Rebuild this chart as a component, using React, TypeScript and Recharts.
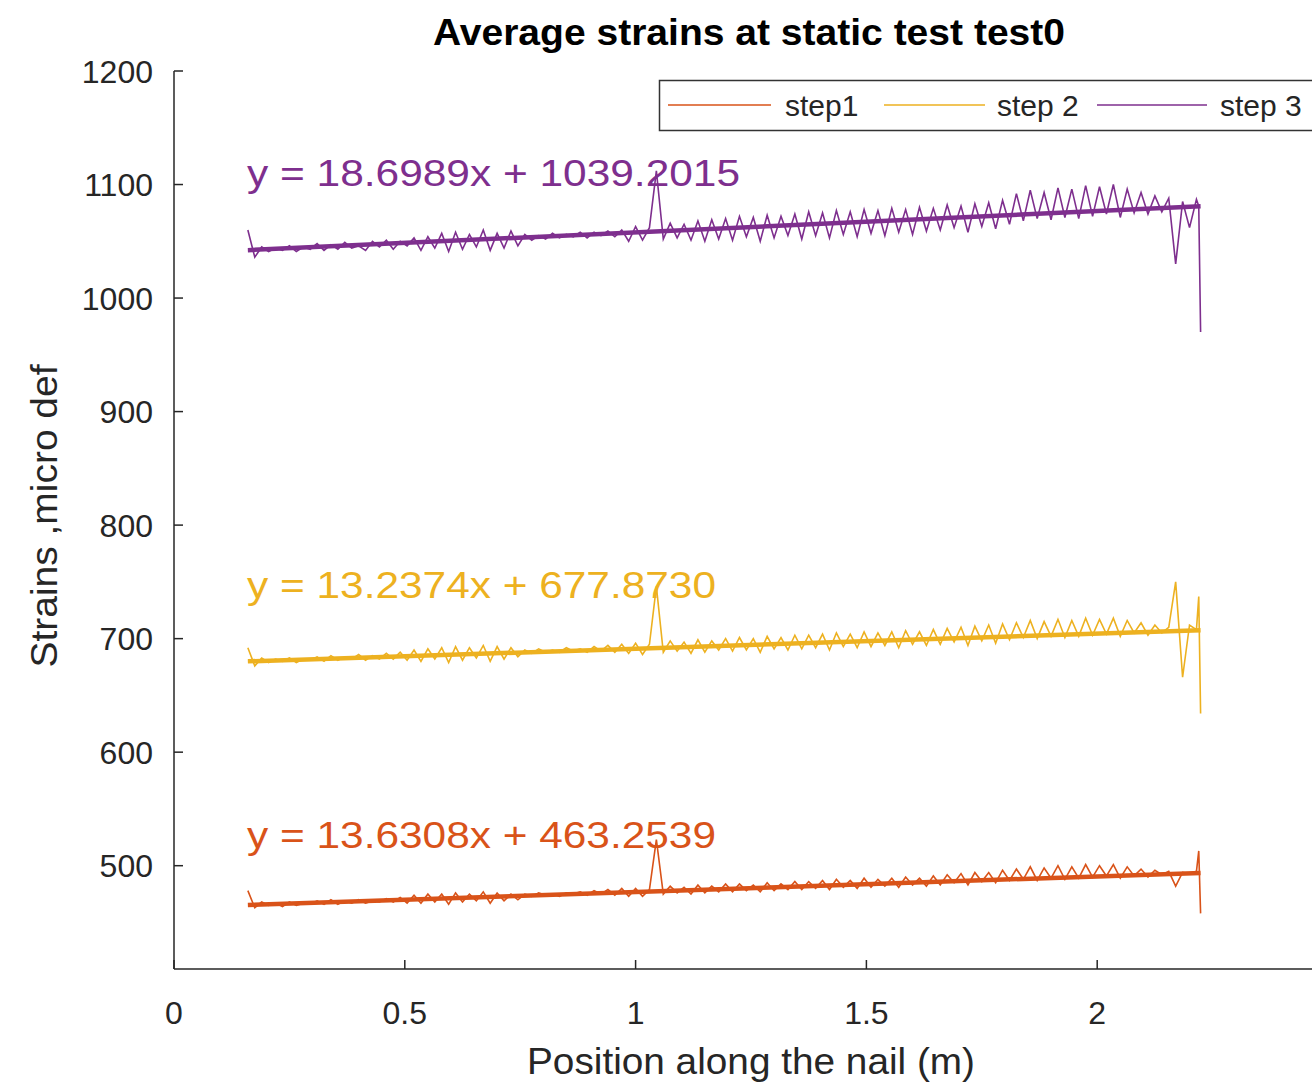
import React from "react";
import { LineChart, Line, XAxis, YAxis } from "recharts";

// Sample positions along the nail (m)
const positions = [
  0.16, 0.175, 0.19, 0.205, 0.22, 0.235, 0.25, 0.265, 0.28, 0.295,
  0.31, 0.325, 0.34, 0.355, 0.37, 0.385, 0.4, 0.415, 0.43, 0.445,
  0.46, 0.475, 0.49, 0.505, 0.52, 0.535, 0.55, 0.565, 0.58, 0.595,
  0.61, 0.625, 0.64, 0.655, 0.67, 0.685, 0.7, 0.715, 0.73, 0.745,
  0.76, 0.775, 0.79, 0.805, 0.82, 0.835, 0.85, 0.865, 0.88, 0.895,
  0.91, 0.925, 0.94, 0.955, 0.97, 0.985, 1.0, 1.015, 1.03, 1.045,
  1.06, 1.075, 1.09, 1.105, 1.12, 1.135, 1.15, 1.165, 1.18, 1.195,
  1.21, 1.225, 1.24, 1.255, 1.27, 1.285, 1.3, 1.315, 1.33, 1.345,
  1.36, 1.375, 1.39, 1.405, 1.42, 1.435, 1.45, 1.465, 1.48, 1.495,
  1.51, 1.525, 1.54, 1.555, 1.57, 1.585, 1.6, 1.615, 1.63, 1.645,
  1.66, 1.675, 1.69, 1.705, 1.72, 1.735, 1.75, 1.765, 1.78, 1.795,
  1.81, 1.825, 1.84, 1.855, 1.87, 1.885, 1.9, 1.915, 1.93, 1.945,
  1.96, 1.975, 1.99, 2.005, 2.02, 2.035, 2.05, 2.065, 2.08, 2.095,
  2.11, 2.125, 2.14, 2.155, 2.17, 2.185, 2.2, 2.215,
  2.22, 2.224,
];

const step1 = [
  478, 463, 468, 465, 467, 464, 468, 465, 467, 466,
  469, 466, 470, 466, 469, 467, 470, 467, 469, 468,
  471, 468, 472, 467, 474, 467, 475, 468, 475, 466,
  476, 468, 475, 469, 477, 467, 476, 469, 475, 470,
  475, 473, 476, 474, 475, 473, 476, 475, 477, 474,
  478, 475, 479, 474, 480, 473, 480, 473, 479, 523,
  475, 482, 476, 481, 475, 483, 476, 482, 477, 484,
  477, 484, 478, 483, 477, 485, 478, 484, 479, 486,
  479, 486, 480, 487, 479, 488, 481, 487, 480, 489,
  481, 488, 482, 489, 481, 490, 483, 489, 482, 491,
  483, 492, 485, 493, 483, 494, 486, 494, 485, 496,
  487, 497, 488, 499, 487, 498, 489, 500, 488, 499,
  489, 501, 490, 500, 491, 501, 489, 499, 491, 497,
  490, 496, 492, 495, 482, 494, 493, 495,
  513, 458,
];

const step2 = [
  692, 676, 683, 679, 682, 680, 683, 679, 682, 681,
  684, 680, 685, 681, 684, 682, 686, 681, 685, 682,
  687, 682, 688, 681, 690, 680, 691, 682, 692, 679,
  693, 681, 692, 683, 694, 680, 693, 682, 692, 684,
  690, 687, 691, 688, 690, 688, 692, 689, 691, 688,
  693, 689, 694, 688, 695, 687, 696, 686, 695, 746,
  688, 698, 689, 697, 687, 699, 688, 698, 690, 700,
  689, 701, 690, 700, 688, 702, 691, 701, 690, 703,
  691, 703, 692, 704, 690, 705, 693, 704, 692, 706,
  693, 705, 694, 706, 692, 707, 695, 706, 694, 708,
  695, 709, 697, 710, 694, 711, 698, 712, 696, 713,
  699, 714, 701, 716, 700, 715, 702, 717, 701, 716,
  702, 718, 703, 717, 704, 718, 702, 716, 705, 714,
  703, 712, 705, 710, 750, 666, 712, 708,
  737, 634,
];

const step3 = [
  1060, 1036, 1045, 1041, 1044, 1042, 1046, 1041, 1045, 1043,
  1048, 1042, 1047, 1043, 1049, 1044, 1046, 1042, 1050, 1045,
  1051, 1043, 1050, 1046, 1053, 1042, 1054, 1044, 1057, 1041,
  1058, 1043, 1056, 1045, 1060, 1042, 1057, 1044, 1059, 1046,
  1056, 1051, 1055, 1052, 1057, 1053, 1056, 1054, 1058, 1053,
  1058, 1055, 1059, 1054, 1060, 1050, 1063, 1051, 1062, 1112,
  1052, 1066, 1053, 1065, 1051, 1068, 1050, 1069, 1052, 1070,
  1051, 1072, 1054, 1071, 1050, 1073, 1053, 1072, 1055, 1074,
  1052, 1076, 1055, 1075, 1053, 1077, 1056, 1076, 1054, 1078,
  1057, 1077, 1055, 1079, 1058, 1078, 1056, 1080, 1059, 1079,
  1060, 1082, 1062, 1081, 1058, 1083, 1063, 1084, 1061, 1086,
  1065, 1092, 1068, 1095, 1070, 1093, 1069, 1097, 1071, 1096,
  1070, 1099, 1072, 1098, 1074, 1100, 1071, 1096, 1075, 1093,
  1074, 1090, 1076, 1088, 1030, 1085, 1062, 1087,
  1081, 970,
];

// Linear fit lines (end points)
const fitX = [0.16, 2.224];
const fit1 = [465.4, 493.6];
const fit2 = [680.0, 707.3];
const fit3 = [1042.2, 1080.8];

const xTicks = [0, 0.5, 1, 1.5, 2];
const yTicks = [500, 600, 700, 800, 900, 1000, 1100, 1200];

const seriesNames = ["step1", "step 2", "step 3"];
const equations = [
  "y = 13.6308x + 463.2539",
  "y = 13.2374x + 677.8730",
  "y = 18.6989x + 1039.2015",
];

const C1 = "#D95319";
const C2 = "#EDB120";
const C3 = "#7E2F8E";
const AX = "#262626";
const FONT = "'Liberation Sans', Arial, Helvetica, sans-serif";

const data = positions.map((x, i) => ({ x, s1: step1[i], s2: step2[i], s3: step3[i] }));
const fitData = fitX.map((x, i) => ({ x, f1: fit1[i], f2: fit2[i], f3: fit3[i] }));

const YTick = (props: any) => {
  const { x, y, payload } = props;
  return (
    <g>
      <line x1={x} x2={x + 9} y1={y} y2={y} stroke={AX} strokeWidth={1.5} />
      <text x={x - 21} y={y} dy="0.36em" textAnchor="end" fontSize={32} fill={AX} fontFamily={FONT}>
        {payload.value}
      </text>
    </g>
  );
};

const XTick = (props: any) => {
  const { x, y, payload } = props;
  return (
    <g>
      <line x1={x} x2={x} y1={y} y2={y - 9} stroke={AX} strokeWidth={1.5} />
      <text x={x} y={y + 55} textAnchor="middle" fontSize={32} fill={AX} fontFamily={FONT}>
        {payload.value}
      </text>
    </g>
  );
};

export default function App() {
  return (
    <div
      style={{
        position: "absolute",
        left: 0,
        top: 0,
        width: 1312,
        height: 1087,
        overflow: "hidden",
        background: "#fff",
      }}
    >
      <div style={{ position: "relative", width: 1400, height: 1087 }}>
        <LineChart
          width={1400}
          height={1087}
          data={data}
          margin={{ top: 71, right: 72, bottom: 58, left: 14 }}
        >
          <XAxis
            type="number"
            dataKey="x"
            domain={[0, 2.5]}
            ticks={xTicks}
            allowDataOverflow
            height={60}
            tickSize={0}
            tickMargin={0}
            tickLine={false}
            tick={<XTick />}
            axisLine={{ stroke: AX, strokeWidth: 1.5 }}
          />
          <YAxis
            type="number"
            domain={[409, 1200]}
            ticks={yTicks}
            allowDataOverflow
            width={160}
            tickSize={0}
            tickMargin={0}
            tickLine={false}
            tick={<YTick />}
            axisLine={{ stroke: AX, strokeWidth: 1.5 }}
          />
          <Line dataKey="s1" stroke={C1} strokeWidth={1.6} dot={false} activeDot={false} isAnimationActive={false} />
          <Line dataKey="s2" stroke={C2} strokeWidth={1.6} dot={false} activeDot={false} isAnimationActive={false} />
          <Line dataKey="s3" stroke={C3} strokeWidth={1.6} dot={false} activeDot={false} isAnimationActive={false} />
          <Line data={fitData} dataKey="f1" stroke={C1} strokeWidth={4.5} dot={false} activeDot={false} isAnimationActive={false} />
          <Line data={fitData} dataKey="f2" stroke={C2} strokeWidth={4.5} dot={false} activeDot={false} isAnimationActive={false} />
          <Line data={fitData} dataKey="f3" stroke={C3} strokeWidth={4.5} dot={false} activeDot={false} isAnimationActive={false} />
        </LineChart>
        <svg
          width={1400}
          height={1087}
          style={{ position: "absolute", left: 0, top: 0, pointerEvents: "none" }}
        >
          <text x={749} y={45} textAnchor="middle" fontSize={37} fontWeight="bold" fill="#000" fontFamily={FONT}
            textLength={632} lengthAdjust="spacingAndGlyphs">
            Average strains at static test test0
          </text>
          <text x={751} y={1074} textAnchor="middle" fontSize={36} fill={AX} fontFamily={FONT}
            textLength={448} lengthAdjust="spacingAndGlyphs">
            Position along the nail (m)
          </text>
          <text x={0} y={0} transform="translate(57,516) rotate(-90)" textAnchor="middle" fontSize={36} fill={AX} fontFamily={FONT}
            textLength={303} lengthAdjust="spacingAndGlyphs">
            Strains ,micro def
          </text>
          <text x={247} y={186} fontSize={36} fill={C3} fontFamily={FONT} textLength={493} lengthAdjust="spacingAndGlyphs">
            {equations[2]}
          </text>
          <text x={247} y={598} fontSize={36} fill={C2} fontFamily={FONT} textLength={469} lengthAdjust="spacingAndGlyphs">
            {equations[1]}
          </text>
          <text x={247} y={848} fontSize={36} fill={C1} fontFamily={FONT} textLength={469} lengthAdjust="spacingAndGlyphs">
            {equations[0]}
          </text>
          <g>
            <rect x={659.5} y={80.5} width={700} height={50} fill="#fff" stroke="#333" strokeWidth={1.5} />
            <line x1={668} x2={771} y1={105} y2={105} stroke={C1} strokeWidth={1.3} />
            <text x={785} y={116} fontSize={30} fill={AX} fontFamily={FONT}>{seriesNames[0]}</text>
            <line x1={884} x2={985} y1={105} y2={105} stroke={C2} strokeWidth={1.3} />
            <text x={997} y={116} fontSize={30} fill={AX} fontFamily={FONT}>{seriesNames[1]}</text>
            <line x1={1097} x2={1207} y1={105} y2={105} stroke={C3} strokeWidth={1.3} />
            <text x={1220} y={116} fontSize={30} fill={AX} fontFamily={FONT}>{seriesNames[2]}</text>
          </g>
        </svg>
      </div>
    </div>
  );
}
